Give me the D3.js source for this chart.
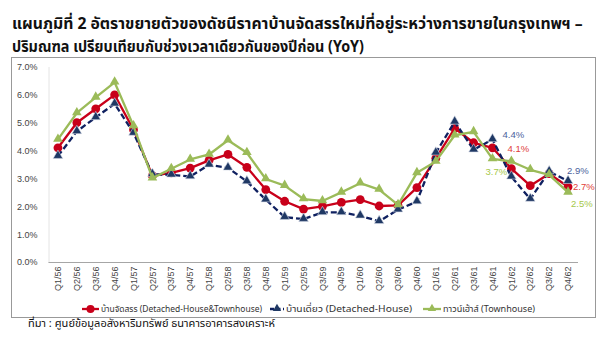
<!DOCTYPE html>
<html>
<head>
<meta charset="utf-8">
<script src="https://cdn.jsdelivr.net/npm/d3@7/dist/d3.min.js"></script>
<style>
  html, body { margin: 0; padding: 0; background: #fff; }
  svg { display: block; }
  text { font-family: Tahoma, "Noto Sans Thai", "Noto Sans", Arial, sans-serif; }
</style>
</head>
<body>
<svg id="chart" width="610" height="360"></svg>
<script>
const categories = ["Q1/56","Q2/56","Q3/56","Q4/56","Q1/57","Q2/57","Q3/57","Q4/57",
  "Q1/58","Q2/58","Q3/58","Q4/58","Q1/59","Q2/59","Q3/59","Q4/59",
  "Q1/60","Q2/60","Q3/60","Q4/60","Q1/61","Q2/61","Q3/61","Q4/61",
  "Q1/62","Q2/62","Q3/62","Q4/62"];
const allHouses = [4.1,5.0,5.5,6.0,4.75,3.1,3.2,3.37,3.65,3.86,3.4,2.6,2.18,1.9,2.0,2.14,2.24,2.01,2.03,2.67,3.72,4.8,4.28,4.1,3.35,2.74,3.17,2.7];
const detached = [3.8,4.69,5.19,5.68,4.63,3.15,3.13,3.07,3.49,3.38,2.89,2.24,1.61,1.54,1.78,1.78,1.66,1.46,1.88,2.17,3.92,5.03,4.03,4.4,3.06,2.26,3.25,2.9];
const townhouse = [4.4,5.35,5.91,6.45,4.88,3.01,3.35,3.68,3.86,4.37,3.92,2.98,2.74,2.26,2.19,2.5,2.83,2.6,2.05,3.2,3.61,4.55,4.67,3.7,3.61,3.31,3.13,2.5];
const yTicks = [0,1,2,3,4,5,6,7];
const seriesNames = ["บ้านจัดสรร (Detached-House&Townhouse)", "บ้านเดี่ยว (Detached-House)", "ทาวน์เฮ้าส์ (Townhouse)"];
const titleLines = ["แผนภูมิที่ 2 อัตราขยายตัวของดัชนีราคาบ้านจัดสรรใหม่ที่อยู่ระหว่างการขายในกรุงเทพฯ –",
  "ปริมณฑล เปรียบเทียบกับช่วงเวลาเดียวกันของปีก่อน (YoY)"];
const sourceText = "ที่มา : ศูนย์ข้อมูลอสังหาริมทรัพย์ ธนาคารอาคารสงเคราะห์";
const endLabels = [
  {series: 1, index: 23, text: "4.4%"},
  {series: 0, index: 23, text: "4.1%"},
  {series: 2, index: 23, text: "3.7%"},
  {series: 1, index: 27, text: "2.9%"},
  {series: 0, index: 27, text: "2.7%"},
  {series: 2, index: 27, text: "2.5%"}
];

const svg = d3.select("#chart");
const colors = ["#c8001a", "#0f2060", "#9bbb59"];
const labelColors = ["#e0403a", "#4b5f9c", "#a5c84a"];

function fitText(sel, width, base) {
  const w = sel.node().getComputedTextLength();
  if (w > 0) sel.attr("font-size", base * width / w);
}
function squeezeTo(sel, width) {
  const w = sel.node().getComputedTextLength();
  if (w > 0 && Math.abs(w - width) > 1) sel.attr("textLength", width).attr("lengthAdjust", "spacingAndGlyphs");
}

// Title
const title = svg.append("g");
titleLines.forEach((t, i) => {
  title.append("text").attr("x", 12).attr("y", 29 + i * 23)
    .attr("font-size", 15).attr("font-weight", "bold").attr("fill", "#111").text(t);
});
const tNodes = title.selectAll("text").nodes();
const s = 571 / tNodes[0].getComputedTextLength();
title.selectAll("text").attr("font-size", 15 * s);
squeezeTo(d3.select(tNodes[1]), 352);

// Border
svg.append("rect").attr("x", 11.5).attr("y", 57.5).attr("width", 584).attr("height", 260)
  .attr("fill", "none").attr("stroke", "#999").attr("stroke-width", 1);

const x = d3.scaleBand().domain(categories).range([48.5, 577.5]);
const y = d3.scaleLinear().domain([0, 7]).range([262, 67]);

// Y axis
const yAxis = d3.axisLeft(y).tickValues(yTicks).tickFormat(d => d.toFixed(1) + "%").tickSize(0).tickPadding(11);
const yg = svg.append("g").attr("transform", "translate(48.5,0)").call(yAxis);
yg.select(".domain").attr("stroke", "#c8c8c8").attr("stroke-dasharray", "1,1");
yg.selectAll("text").attr("font-size", 9).attr("fill", "#444")
  .style("font-family", "Arial, 'Liberation Sans', sans-serif");

// X axis
const xAxis = d3.axisBottom(x).tickSize(0).tickPadding(4);
const xg = svg.append("g").attr("transform", "translate(0,262.5)").call(xAxis);
xg.select(".domain").attr("stroke", "#a6a6a6").attr("d", "M48.5,0H578");
xg.selectAll(".tick text")
  .attr("transform", "rotate(-90)")
  .attr("text-anchor", "end")
  .attr("dy", "0.35em")
  .attr("x", -4).attr("y", 0)
  .attr("font-size", 9).attr("fill", "#444")
  .style("font-family", "Arial, 'Liberation Sans', sans-serif");

const series = [allHouses, detached, townhouse];
const cx = (i) => x(categories[i]) + x.bandwidth() / 2;
const line = d3.line().x((d, i) => cx(i)).y(d => y(d));

const tri = d3.symbol().type(d3.symbolTriangle).size(40);

series.forEach((vals, si) => {
  const g = svg.append("g");
  g.append("path").datum(vals).attr("d", line).attr("fill", "none")
    .attr("stroke", colors[si]).attr("stroke-width", 2.3)
    .attr("stroke-dasharray", si === 1 ? "6,3" : null)
    .attr("stroke-linejoin", "round");
  if (si === 0) {
    g.selectAll("circle").data(vals).join("circle")
      .attr("cx", (d, i) => cx(i)).attr("cy", d => y(d)).attr("r", 4.4)
      .attr("fill", colors[si]);
  } else {
    g.selectAll("path.m").data(vals).join("path").attr("class", "m")
      .attr("d", tri)
      .attr("transform", (d, i) => `translate(${cx(i)},${y(d) - 0.5})`)
      .attr("fill", si === 1 ? "#1f3864" : colors[si])
      .attr("stroke", si === 1 ? "#d6dce8" : "none").attr("stroke-width", 0.6);
  }
});

// Data labels
const labelOffsets = {"1-23": [10, 135], "0-23": [15, 149], "2-23": [-7, 172],
  "1-27": [-1, 171], "0-27": [5, 187], "2-27": [3, 204]};
endLabels.forEach(l => {
  const o = labelOffsets[l.series + "-" + l.index];
  svg.append("text").attr("x", cx(l.index) + o[0]).attr("y", o[1]).attr("dy", "0.35em")
    .attr("font-size", 9.5).attr("fill", labelColors[l.series])
    .style("font-family", "Arial, 'Liberation Sans', sans-serif").text(l.text);
});

// Legend
const legendY = 309;
const legendItems = [
  {x1: 82, x2: 99, tx: 101, tw: 161},
  {x1: 270, x2: 284, tx: 286, tw: 126},
  {x1: 423, x2: 441, tx: 443, tw: 92}
];
legendItems.forEach((it, si) => {
  const g = svg.append("g");
  g.append("line").attr("x1", it.x1).attr("x2", it.x2).attr("y1", legendY).attr("y2", legendY)
    .attr("stroke", colors[si]).attr("stroke-width", 2.3)
    .attr("stroke-dasharray", si === 1 ? "4,2.5" : null);
  const mx = (it.x1 + it.x2) / 2;
  if (si === 0) {
    g.append("circle").attr("cx", mx).attr("cy", legendY).attr("r", 4).attr("fill", colors[0]);
  } else {
    g.append("path").attr("d", d3.symbol().type(d3.symbolTriangle).size(30))
      .attr("transform", `translate(${mx},${legendY - 0.5})`)
      .attr("fill", si === 1 ? "#1f3864" : colors[si]);
  }
  const tt = g.append("text").attr("x", it.tx).attr("y", legendY).attr("dy", "0.35em")
    .attr("font-size", 9.5).attr("fill", "#333").text(seriesNames[si]);
  squeezeTo(tt, it.tw);
});

// Source
const src = svg.append("text").attr("x", 28).attr("y", 323).attr("dy", "0.35em")
  .attr("font-size", 10.5).attr("fill", "#111").text(sourceText);
squeezeTo(src, 247);
</script>
</body>
</html>
